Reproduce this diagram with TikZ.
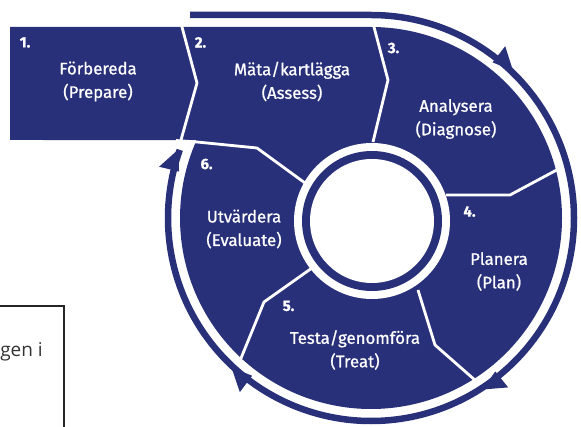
\documentclass[tikz,border=0pt]{standalone}
\usepackage{fontspec}
\setmainfont{Fira Sans}[FakeBold=0.8]
\newfontfamily\boxfont{Open Sans}
\definecolor{navy}{RGB}{41,48,122}
\begin{document}
\begin{tikzpicture}[x=1pt,y=1pt,
  divider/.style={white, line width=2.8pt, line join=round},
  band/.style={navy, line width=6.5pt},
  lbl/.style={text=white, font=\fontsize{16.8}{23.5}\selectfont, align=center},
  num/.style={text=white, font=\fontsize{15}{15}\selectfont\bfseries}]
\useasboundingbox (0,0) rectangle (581,426);
\clip (0,0) rectangle (581,426);
\coordinate (C) at (371,208);
\coordinate (I) at (372,205);
% body
\fill[navy] (10,399) -- (371,399) arc[start angle=90, end angle=-204.1, radius=191] -- (10,286) -- cycle;
% dividers
\draw[divider] (181.3,403) -- (182,399) -- (197,343) -- (181,286);
\draw[divider] (373,403) -- (374,399) -- (388,346) -- (373,284);
\draw[divider] (446,231) -- (510,231) -- (566,261);
\draw[divider] (418,136) -- (435,81) -- (484,38);
\draw[divider] (312,158) -- (264,124) -- (237,58);
\draw[divider] (176,285.5) -- (197,284) -- (257,278) -- (305,243);
% inner ring
\fill[white] (I) circle[radius=78];
\fill[navy] (I) circle[radius=70];
\fill[white] (I) circle[radius=62];
% outer band
\draw[band] (190,411) -- (371,411) arc[start angle=90, end angle=-199.6, radius=203];
% arrowheads (clockwise)
\foreach \t in {46,-57,-133,-199.6}{
  \fill[navy] ([shift={(C)}]\t:204.5) -- ([shift={(C)}]\t+6:197.5) -- ([shift={(C)}]\t+6:218) -- cycle;
}
% labels
\node[lbl] (l1) at (98,344.5) {Förbereda\\(Prepare)};
\node[lbl] (l2) at (292,344.5) {Mäta/kartlägga\\(Assess)};
\node[lbl] (l3) at (456,307) {Analysera\\(Diagnose)};
\node[lbl] (l4) at (499,154.5) {Planera\\(Plan)};
\node[lbl] (l5) at (355,76) {Testa/genomföra\\(Treat)};
\node[lbl] (l6) at (244,197) {Utvärdera\\(Evaluate)};
\node[num] (n1) at (25,383.5) {1.};
\node[num] (n2) at (200.5,383.5) {2.};
\node[num] (n3) at (393.5,378) {3.};
\node[num] (n4) at (469.5,214.5) {4.};
\node[num] (n5) at (288.5,120) {5.};
\node[num] (n6) at (206.5,262) {6.};
% side box
\draw[line width=1.3pt, black!85] (-5,120) -- (64,120) -- (64,-5);
\node[anchor=base east, inner sep=0pt, font=\boxfont\fontsize{19}{19}\selectfont, text=black!80] (bt) at (43,70) {gen i};
\end{tikzpicture}
\end{document}
